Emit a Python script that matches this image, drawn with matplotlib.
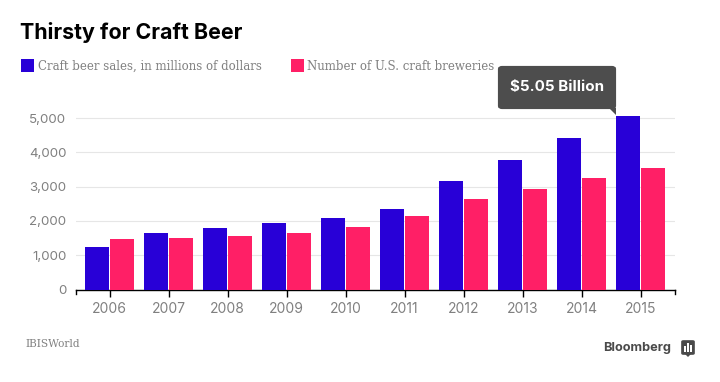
import matplotlib
matplotlib.use("Agg")
import matplotlib.pyplot as plt
from matplotlib.patches import Rectangle, FancyBboxPatch, Polygon

years = ["2006", "2007", "2008", "2009", "2010", "2011", "2012", "2013", "2014", "2015"]
sales = [1230, 1640, 1790, 1950, 2080, 2350, 3170, 3780, 4430, 5050]
breweries = [1480, 1500, 1560, 1640, 1820, 2150, 2640, 2930, 3260, 3540]
yticks = [0, 1000, 2000, 3000, 4000, 5000]
title = "Thirsty for Craft Beer"
series_names = ["Craft beer sales, in millions of dollars", "Number of U.S. craft breweries"]
tooltip = "$5.05 Billion"
source = "IBISWorld"
brand = "Bloomberg"

BLUE = "#2800D7"
PINK = "#FF1F66"
GREY = "#808080"
W, H = 720, 382

fig = plt.figure(figsize=(W / 100, H / 100), dpi=100, facecolor="white")
ax = fig.add_axes([75.5 / W, (H - 289.5) / H, 599 / W, (289.5 - 116.3) / H])

def px(x, y):
    return x / W, 1 - y / H

bw = 24 / 59
xs = list(range(len(years)))
ax.bar([x - bw / 2 - 0.004 for x in xs], sales, width=bw, color=BLUE, zorder=3, linewidth=0)
ax.bar([x + bw / 2 + 0.012 for x in xs], breweries, width=bw, color=PINK, zorder=3, linewidth=0)

ax.set_xlim(-34 / 59, 9 + 34 / 59)
ax.set_ylim(0, 5050)
ax.set_yticks(yticks)
ax.set_yticklabels([f"{v:,}" for v in yticks], family="Inter", fontsize=9.6, color=GREY)
ax.set_xticks(xs)
ax.set_xticklabels(years, family="Inter", fontsize=10, color=GREY)
ax.grid(axis="y", color="#E6E6E6", linewidth=0.8, zorder=0)
ax.set_axisbelow(True)
for s in ["top", "left", "right"]:
    ax.spines[s].set_visible(False)
ax.spines["bottom"].set_color("black")
ax.spines["bottom"].set_linewidth(1)
ax.tick_params(axis="y", length=0, pad=6.5)
ax.tick_params(axis="x", length=5, width=1, color="black", pad=4)
for x in (-34 / 59, 9 + 34 / 59):
    ax.plot([x, x], [0, -5 / 0.0343], color="black", lw=1, clip_on=False, zorder=4)

fig.text(*px(20, 32.5), title, family="Inter", fontweight="bold", fontsize=15.4, color="black", va="center")

fig.add_artist(Rectangle(px(20.5, 71.5), 13 / W, 13 / H, transform=fig.transFigure, color=BLUE, lw=0))
fig.text(*px(38, 66.5), series_names[0], family="DejaVu Serif", fontsize=8.5, color=GREY, va="center")
fig.add_artist(Rectangle(px(290.5, 71.5), 13 / W, 13 / H, transform=fig.transFigure, color=PINK, lw=0))
fig.text(*px(307, 66.5), series_names[1], family="DejaVu Serif", fontsize=8.5, color=GREY, va="center")

fig.add_artist(FancyBboxPatch(px(500, 107), 114 / W, 39 / H, boxstyle="round,pad=0,rounding_size=0.003",
                              transform=fig.transFigure, fc="#4D4D4D", ec="#4D4D4D", lw=3, zorder=10))
fig.add_artist(Polygon([px(609, 108), px(616, 108), px(616, 115)], transform=fig.transFigure,
                       fc="#4D4D4D", ec="none", zorder=10))
fig.text(*px(557, 87), tooltip.replace("$", r"\$"), family="Inter", fontweight="bold", fontsize=10.9,
         color="white", ha="center", va="center", zorder=11)

fig.text(*px(25, 344), source, family="DejaVu Serif", fontsize=7.6, color=GREY, va="center")
fig.text(*px(603, 348), brand, family="Inter", fontweight="bold", fontsize=9.2, color="#4A4A4A", va="center")

fig.add_artist(FancyBboxPatch(px(682, 354), 12 / W, 13 / H, boxstyle="round,pad=0,rounding_size=0.002",
                              transform=fig.transFigure, fc="#4A4A4A", ec="#4A4A4A", lw=1.2))
fig.add_artist(Polygon([px(685, 354), px(691, 354), px(688, 357)], transform=fig.transFigure, fc="#4A4A4A", ec="none"))
for x0, h in zip((684, 687, 690), (6, 9, 7)):
    fig.add_artist(Rectangle(px(x0, 352), 1.6 / W, h / H, transform=fig.transFigure, color="white", lw=0))

fig.savefig("out.png", dpi=100)
